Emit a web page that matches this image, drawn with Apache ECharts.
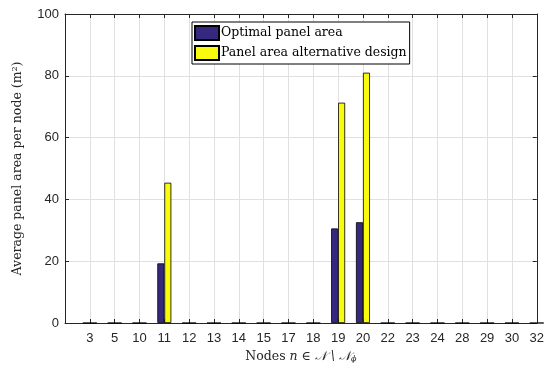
<!DOCTYPE html>
<html>
<head>
<meta charset="utf-8">
<script src="https://cdn.jsdelivr.net/npm/echarts@6/dist/echarts.min.js"></script>
<style>
  html, body { margin: 0; padding: 0; background: #fff; }
  #chart { width: 547px; height: 371px; }
</style>
</head>
<body>
<div id="chart"></div>
<script>
// node labels along the x axis
const nodes = ['3', '5', '10', '11', '12', '13', '14', '15', '17', '18', '19', '20', '22', '23', '24', '28', '29', '30', '32'];
// average panel area per node (m^2)
const optimalArea = [0, 0, 0, 19.3, 0, 0, 0, 0, 0, 0, 30.6, 32.6, 0, 0, 0, 0, 0, 0, 0];
const alternativeArea = [0, 0, 0, 45.4, 0, 0, 0, 0, 0, 0, 71.3, 81.0, 0, 0, 0, 0, 0, 0, 0];
const yTicks = [0, 20, 40, 60, 80, 100];

const axisColor = '#262626';
const gridColor = '#e0e0e0';
const sansFont = '"Liberation Sans", Arial, sans-serif';
const serifFont = '"DejaVu Serif", serif';

const chart = echarts.init(document.getElementById('chart'));

// nodes sit at positions 1..n on a numeric axis, like MATLAB's bar()
const toPoints = vals => vals.map((v, i) => [i + 1, v]);

const xBase = {
  type: 'value',
  min: 0,
  max: nodes.length,
  interval: 1,
  axisLine: { show: true, onZero: false, lineStyle: { color: axisColor, width: 1 } },
  axisTick: { show: true, inside: true, length: 4, lineStyle: { color: axisColor } },
};

const yBase = {
  type: 'value',
  min: yTicks[0],
  max: yTicks[yTicks.length - 1],
  interval: 20,
  axisLine: { show: true, onZero: false, lineStyle: { color: axisColor, width: 1 } },
  axisTick: { show: true, inside: true, length: 4, lineStyle: { color: axisColor } },
};

chart.setOption({
  animation: false,
  backgroundColor: '#fff',
  grid: { left: 65, right: 6, top: 14, bottom: 48, containLabel: false },
  legend: {
    orient: 'vertical',
    left: 192,
    top: 22,
    padding: [3, 3, 3, 2],
    itemGap: 4,
    itemWidth: 24,
    itemHeight: 14,
    icon: 'rect',
    backgroundColor: '#fff',
    borderColor: '#000',
    borderWidth: 1,
    textStyle: { fontFamily: serifFont, fontSize: 12.5, color: '#000', padding: [0, 0, 0, -3] },
    data: ['Optimal panel area', 'Panel area alternative design'],
  },
  xAxis: [
    Object.assign({}, xBase, {
      position: 'bottom',
      name: '{t|Nodes }{i|n}{t| ∈ }{c|𝒩 \\ 𝒩}{s|ϕ}',
      nameLocation: 'middle',
      nameGap: 26,
      nameTextStyle: {
        rich: {
          t: { fontFamily: serifFont, fontSize: 12.5, color: axisColor },
          i: { fontFamily: serifFont, fontSize: 12.5, fontStyle: 'italic', color: axisColor },
          c: { fontFamily: serifFont, fontSize: 12.5, fontStyle: 'italic', color: axisColor },
          s: { fontFamily: serifFont, fontSize: 8, fontStyle: 'italic', color: axisColor, verticalAlign: 'bottom', padding: [6, 0, 0, 0] },
        },
      },
      axisLabel: {
        color: axisColor,
        fontFamily: sansFont,
        fontSize: 13,
        margin: 9,
        formatter: v => nodes[v - 1] || '',
      },
      splitLine: { show: true, lineStyle: { color: gridColor, width: 1 } },
    }),
    Object.assign({}, xBase, {
      position: 'top',
      axisLabel: { show: false },
      splitLine: { show: false },
    }),
  ],
  yAxis: [
    Object.assign({}, yBase, {
      position: 'left',
      name: '{t|Average panel area per node (m}{s|2}{t|)}',
      nameLocation: 'middle',
      nameGap: 40,
      nameRotate: 90,
      nameTextStyle: {
        rich: {
          t: { fontFamily: serifFont, fontSize: 12.5, color: axisColor },
          s: { fontFamily: serifFont, fontSize: 8, color: axisColor, verticalAlign: 'top', padding: [0, 0, 6, 0] },
        },
      },
      axisLabel: { color: axisColor, fontFamily: sansFont, fontSize: 13, margin: 6 },
      splitLine: { show: true, lineStyle: { color: gridColor, width: 1 } },
    }),
    Object.assign({}, yBase, {
      position: 'right',
      axisLabel: { show: false },
      splitLine: { show: false },
    }),
  ],
  series: [
    {
      name: 'Optimal panel area',
      type: 'bar',
      barWidth: 7,
      barGap: '0%',
      data: toPoints(optimalArea),
      itemStyle: { color: '#35297f', borderColor: '#000', borderWidth: 0.8 },
    },
    {
      name: 'Panel area alternative design',
      type: 'bar',
      barWidth: 7,
      barGap: '0%',
      data: toPoints(alternativeArea),
      itemStyle: { color: '#f9fb0e', borderColor: '#000', borderWidth: 0.8 },
    },
  ],
});
</script>
</body>
</html>
